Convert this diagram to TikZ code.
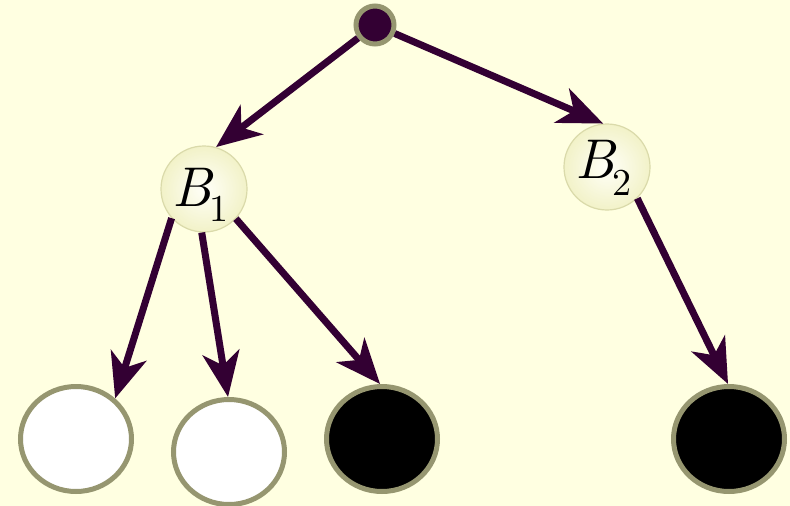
\documentclass[tikz,border=0pt]{standalone}
\usepackage{fontspec}
\newfontfamily\lmten{lmroman10-regular.otf}[ItalicFont=lmroman10-italic.otf]
\usetikzlibrary{arrows.meta,shapes.geometric}
\definecolor{bgc}{RGB}{255,255,225}
\definecolor{plum}{RGB}{51,0,51}
\definecolor{rimgray}{RGB}{150,150,112}
\definecolor{ballin}{RGB}{255,255,248}
\definecolor{ballout}{RGB}{242,242,200}
\definecolor{ballrim}{RGB}{218,218,170}
\begin{document}
\begin{tikzpicture}[x=1pt,y=-1pt,
 leaf/.style={ellipse, draw=rimgray, line width=5pt, minimum width=111pt, minimum height=105pt, inner sep=0pt},
 white leaf/.style={leaf, fill=white},
 black leaf/.style={leaf, fill=black},
 ball/.style={circle, draw=ballrim, line width=1.2pt, inner color=ballin, outer color=ballout, minimum size=86pt, inner sep=0pt},
 rootnode/.style={circle, draw=rimgray, fill=plum, line width=5pt, minimum size=38pt, inner sep=0pt},
 lbl/.style={anchor=base west, inner sep=0pt, font=\lmten\fontsize{56}{62}\selectfont},
 arr/.style={draw=plum, line width=7pt, -{Stealth[length=45pt,width=37pt,inset=13pt]}}
]
\fill[bgc] (0,0) rectangle (790,506);
\useasboundingbox (0,0) rectangle (790,506);

\node[rootnode] (root) at (375,25) {};
\node[ball] (B1) at (204,189) {};
\node[ball] (B2) at (607,167) {};
\node[white leaf] (L1) at (76,439) {};
\node[white leaf] (L2) at (229,452) {};
\node[black leaf] (L3) at (382,439) {};
\node[black leaf] (L4) at (729,439) {};

\node[lbl] (T1) at (172,206) {\itshape B\kern-2pt\upshape\raisebox{-15pt}{\fontsize{38}{42}\selectfont 1}};
\node[lbl] (T2) at (575,178) {\itshape B\kern-2pt\upshape\raisebox{-17pt}{\fontsize{38}{42}\selectfont 2}};

\draw[arr] (root) -- (B1.74);
\draw[arr] (root) -- (B2.95);
\draw[arr] (B1.222) -- (L1.46);
\draw[arr] (B1.267) -- (L2.91);
\draw[arr] (B1.317) -- (L3.92);
\draw[arr] (B2.314) -- (L4.91);
\end{tikzpicture}
\end{document}
